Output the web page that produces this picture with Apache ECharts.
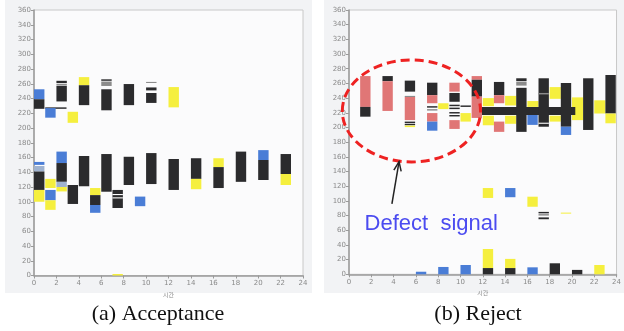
<!DOCTYPE html>
<html><head><meta charset="utf-8">
<script src="https://cdn.jsdelivr.net/npm/echarts@6/dist/echarts.min.js"></script>
<style>html,body{margin:0;padding:0;background:#fff}#c{width:624px;height:331px}</style>
</head><body><div id="c"></div>
<script>
// ---------------- data ----------------
const xTickLabels = ['0','2','4','6','8','10','12','14','16','18','20','22','24'];
const yTickLabels = ['0','20','40','60','80','100','120','140','160','180','200','220','240','260','280','300','320','340','360'];
const xAxisName = '시간';
const captions = ['(a) Acceptance', '(b) Reject'];
const annotationText = 'Defect  signal';

// bars: [hour, low, high, colorKey]
const acceptBars = [
  [0, 239, 252.5, 'b'], [0, 226, 239, 'k'],
  [1, 214, 227, 'b'],
  [2, 236, 257, 'k'], [2, 257.5, 260, 'g'], [2, 261, 264, 'k'],
  [3, 207, 222, 'y'],
  [4, 258, 269, 'y'], [4, 231, 258, 'k'],
  [6, 224, 252.5, 'k'], [6, 257, 263, 'g'], [6, 264, 266, 'k'],
  [8, 231, 259.6, 'k'],
  [10, 234, 247.5, 'k'], [10, 251, 255, 'k'], [10, 261, 262.5, 'g'],
  [12, 228, 255.5, 'y'],
  [0, 150, 154, 'b'], [0, 141, 148.5, 's'], [0, 116, 141, 'k'], [0, 100, 116, 'y'],
  [1, 118.6, 131, 'y'], [1, 102, 116, 'b'], [1, 89, 102, 'y'],
  [2, 152.5, 168, 'b'], [2, 127, 152.5, 'k'], [2, 120, 127, 's'], [2, 114, 120, 'y'],
  [3, 97, 122.7, 'k'],
  [4, 121, 162, 'k'],
  [5, 109, 118.6, 'y'], [5, 95.6, 109, 'k'], [5, 85, 95.6, 'b'],
  [6, 113.6, 164.7, 'k'],
  [7, 91.5, 116, 'k'], [7, 109, 110.5, 'w'], [7, 104.5, 106, 'w'],
  [7, 0, 2, 'y'],
  [8, 122.7, 161, 'k'],
  [9, 94, 107, 'b'],
  [10, 124, 166, 'k'],
  [12, 116, 158, 'k'],
  [14, 131, 159, 'k'], [14, 117, 131, 'y'],
  [16, 147, 159, 'y'], [16, 118.6, 147, 'k'],
  [18, 127, 168, 'k'],
  [20, 156.6, 170, 'b'], [20, 129.5, 156.6, 'k'],
  [22, 137.6, 164.7, 'k'], [22, 122.7, 137.6, 'y']
];
// bands spanning several hours: [hourStart, hourEnd, low, high, colorKey]
const acceptBands = [
  [1, 2.9, 226, 228, 'k'],
  [0.4, 2.6, 117, 119, 'w']
];

const rejectBands = [
  [12, 13, 229, 240, 'y'], [12, 13, 203, 216, 'y'],
  [14, 15, 230, 243, 'y'], [14, 15, 205, 216, 'y'],
  [16, 17, 228, 236, 'y'],
  [18, 19, 239, 255, 'y'], [18, 19, 208, 216, 'y'],
  [20, 21, 210, 241, 'y'],
  [22, 23, 219, 237, 'y'],
  [11.5, 20.3, 217, 228, 'k']
];
const rejectBars = [
  [1, 228, 270, 'p'], [1, 214.7, 228, 'k'],
  [3, 263, 270, 'k'], [3, 222.5, 263, 'p'],
  [5, 248.8, 263.8, 'k'], [5, 241.5, 243, 'g'], [5, 210, 241.5, 'p'],
  [5, 206, 208, 'k'], [5, 203, 205, 'k'], [5, 200.5, 202.5, 'y'],
  [7, 244, 261, 'k'], [7, 233, 244, 'p'], [7, 227, 229, 'k'], [7, 223, 225, 'g'],
  [7, 208, 219.6, 'p'], [7, 195.6, 208, 'b'],
  [8, 225, 233, 'y'],
  [9, 248.8, 261, 'p'], [9, 235, 247, 'k'], [9, 229, 231, 'k'], [9, 225, 227, 'k'],
  [9, 219, 221, 'k'], [9, 215, 217, 'k'], [9, 198, 210, 'p'],
  [10, 208, 219.6, 'y'], [10, 228, 230, 'k'],
  [11, 265, 270, 'p'], [11, 242, 265, 'k'], [11, 213, 242, 'p'],
  [13, 244, 262, 'k'], [13, 233, 244, 'p'], [13, 194, 208, 'p'],
  [15, 194, 254, 'k'], [15, 257, 262, 'g'], [15, 263, 267, 'k'],
  [16, 203.5, 217, 'b'],
  [17, 201, 267, 'k'], [17, 245, 247, 'g'], [17, 205, 206.5, 'w'],
  [19, 201, 260.6, 'k'], [19, 189.8, 201, 'b'],
  [21, 196.6, 267, 'k'],
  [23, 219, 271.5, 'k'], [23, 205.7, 219, 'y'],
  [12, 104, 117.5, 'y'],
  [14, 105, 117.5, 'b'],
  [16, 92, 105.7, 'y'],
  [17, 83, 85, 'k'], [17, 80, 82, 'g'], [17, 75, 77.5, 'k'],
  [19, 83, 84, 'y'],
  [6, 0, 3.5, 'b'],
  [8, 0, 10, 'b'],
  [10, 0, 12.7, 'b'],
  [12, 8.5, 34.5, 'y'], [12, 0, 8.5, 'k'],
  [14, 8.5, 21, 'y'], [14, 0, 8.5, 'k'],
  [16, 0, 9.5, 'b'],
  [18, 0, 15, 'k'],
  [20, 0, 6, 'k'],
  [22, 0, 12.7, 'y']
];

// annotation anchors (data coordinates of panel b)
const ellipseCenter = [5.6, 222.5];
const ellipseRadius = [6.2, 69.5];
const arrowTail = [3.85, 95.8];
const arrowTip = [4.49, 153.4];
const textAnchor = [1.4, 69];

// ---------------- styling ----------------
const palette = {k:'#2b2b2d', b:'#4a7dd6', y:'#f5ef3e', p:'#e07676', g:'#8c8c8c', w:'#ffffff', s:'#9fb2cf'};
const BAR_W = 0.93;

function toRects(bars, bands){
  const out = bands.map(d => [d[0], d[1], d[2], d[3], d[4]]);
  bars.forEach(d => out.push([d[0], d[0] + BAR_W, d[1], d[2], d[3]]));
  return out;
}
const acceptRects = toRects(acceptBars, acceptBands);
const rejectRects = toRects(rejectBars, rejectBands).sort((a,b)=>0);

function makeRender(rects){
  return function(params, api){
    const r = rects[params.dataIndex];
    const p0 = api.coord([api.value(0), api.value(3)]);
    const p1 = api.coord([api.value(1), api.value(2)]);
    return {type:'rect', shape:{x:p0[0], y:p0[1], width:p1[0]-p0[0], height:Math.max(1, p1[1]-p0[1])},
            style:{fill: palette[r[4]]}};
  };
}

const axisLabelStyle = {fontSize:7, color:'#8a8a8a', fontFamily:'DejaVu Sans'};
function xAxisCfg(gi){
  return {gridIndex:gi, type:'value', min:0, max:24, interval:2,
    axisLine:{onZero:false, lineStyle:{color:'#9a9a9a', width:1.5}},
    axisTick:{length:3, lineStyle:{color:'#9a9a9a'}},
    axisLabel:{...axisLabelStyle, margin:4, formatter:(v)=>xTickLabels[v/2]},
    splitLine:{show:false},
    name:xAxisName, nameLocation:'middle', nameGap:14,
    nameTextStyle:{fontSize:6, color:'#8a8a8a', fontFamily:'Noto Sans CJK KR'}};
}
function yAxisCfg(gi){
  return {gridIndex:gi, type:'value', min:0, max:360, interval:20,
    axisLine:{show:true, lineStyle:{color:'#9a9a9a', width:1.5}},
    axisTick:{show:true, length:3, lineStyle:{color:'#9a9a9a'}},
    axisLabel:{...axisLabelStyle, margin:3, formatter:(v)=>yTickLabels[v/20]},
    splitLine:{show:false}};
}

const chart = echarts.init(document.getElementById('c'), null, {renderer:'canvas'});
chart.setOption({
  animation:false,
  backgroundColor:'#ffffff',
  grid:[
    {left:34, top:10, width:269, height:265.5, show:true, backgroundColor:'#fbfbfc', borderColor:'#c8c8c8', borderWidth:1},
    {left:349, top:10, width:273, height:264.3, show:true, backgroundColor:'#fbfbfc', borderColor:'#c8c8c8', borderWidth:1}
  ],
  xAxis:[xAxisCfg(0), xAxisCfg(1)],
  yAxis:[yAxisCfg(0), yAxisCfg(1)],
  series:[
    {type:'custom', xAxisIndex:0, yAxisIndex:0, renderItem:makeRender(acceptRects), data:acceptRects.map(r=>r.slice(0,4)), z:3},
    {type:'custom', xAxisIndex:1, yAxisIndex:1, renderItem:makeRender(rejectRects), data:rejectRects.map(r=>r.slice(0,4)), z:3}
  ]
});

// annotations
const conv = (pt) => chart.convertToPixel({gridIndex:1}, pt);
const c = conv(ellipseCenter);
const rEdge = conv([ellipseCenter[0] + ellipseRadius[0], ellipseCenter[1] + ellipseRadius[1]]);
const tail = conv(arrowTail), tip = conv(arrowTip), ta = conv(textAnchor);
const ang = Math.atan2(tip[1]-tail[1], tip[0]-tail[0]);
const ah = 10, spread = 0.38;
const h1 = [tip[0] - ah*Math.cos(ang - spread), tip[1] - ah*Math.sin(ang - spread)];
const h2 = [tip[0] - ah*Math.cos(ang + spread), tip[1] - ah*Math.sin(ang + spread)];

chart.setOption({
  graphic:[
    {type:'rect', z:-10, silent:true, shape:{x:5, y:0, width:307, height:293}, style:{fill:'#f2f3f5'}},
    {type:'rect', z:-10, silent:true, shape:{x:324, y:0, width:300, height:293}, style:{fill:'#f2f3f5'}},
    {type:'ellipse', z:100, shape:{cx:c[0], cy:c[1], rx:Math.abs(rEdge[0]-c[0]), ry:Math.abs(c[1]-rEdge[1])},
      style:{fill:null, stroke:'#ee2222', lineWidth:3, lineDash:[9,5]}},
    {type:'line', z:100, shape:{x1:tail[0], y1:tail[1], x2:tip[0], y2:tip[1]}, style:{stroke:'#222', lineWidth:1.5}},
    {type:'polyline', z:100, shape:{points:[h1, tip, h2]}, style:{stroke:'#222', lineWidth:1.5, fill:null}},
    {type:'text', z:100, x:ta[0], y:ta[1], style:{text:annotationText, fill:'#4b4bf0', font:'22px "Liberation Sans", Arial, sans-serif', verticalAlign:'middle', align:'left'}},
    {type:'text', z:100, x:158, y:314, style:{text:captions[0], fill:'#111', font:'22px "Liberation Serif", "Times New Roman", serif', align:'center', verticalAlign:'middle'}},
    {type:'text', z:100, x:478, y:314, style:{text:captions[1], fill:'#111', font:'22px "Liberation Serif", "Times New Roman", serif', align:'center', verticalAlign:'middle'}}
  ]
});
</script>
</body></html>
